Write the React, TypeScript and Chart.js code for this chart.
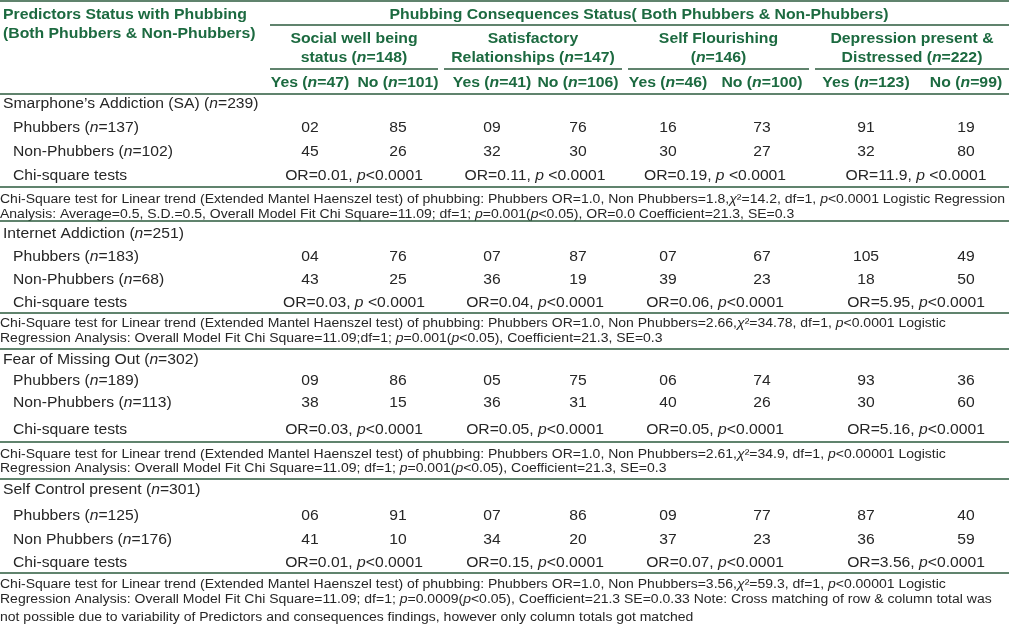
import React, { useEffect, useRef } from "react";
import { Chart, registerables } from "chart.js";

Chart.register(...registerables);

// ---------- DATA ----------
const predictorTitle = ["Predictors Status with Phubbing", "(Both Phubbers & Non-Phubbers)"];
const consequenceTitle = "Phubbing Consequences Status( Both Phubbers & Non-Phubbers)";
const consequenceGroups = [
  ["Social well being", "status (*n*=148)"],
  ["Satisfactory", "Relationships (*n*=147)"],
  ["Self Flourishing", "(*n*=146)"],
  ["Depression present &", "Distressed (*n*=222)"],
];
const yesNoLabels = [
  "Yes (*n*=47)", "No (*n*=101)",
  "Yes (*n*=41)", "No (*n*=106)",
  "Yes (*n*=46)", "No (*n*=100)",
  "Yes (*n*=123)", "No (*n*=99)",
];
const predictorLabels = [
  "Smarphone\u2019s Addiction (SA) (*n*=239)",
  "Internet Addiction (*n*=251)",
  "Fear of Missing Out (*n*=302)",
  "Self Control present (*n*=301)",
];
const phubberLabels = ["Phubbers (*n*=137)", "Phubbers (*n*=183)", "Phubbers (*n*=189)", "Phubbers (*n*=125)"];
const nonPhubberLabels = ["Non-Phubbers (*n*=102)", "Non-Phubbers (*n*=68)", "Non-Phubbers (*n*=113)", "Non Phubbers (*n*=176)"];
const chiLabel = "Chi-square tests";
const phubberCounts = [
  [2, 85, 9, 76, 16, 73, 91, 19],
  [4, 76, 7, 87, 7, 67, 105, 49],
  [9, 86, 5, 75, 6, 74, 93, 36],
  [6, 91, 7, 86, 9, 77, 87, 40],
];
const nonPhubberCounts = [
  [45, 26, 32, 30, 30, 27, 32, 80],
  [43, 25, 36, 19, 39, 23, 18, 50],
  [38, 15, 36, 31, 40, 26, 30, 60],
  [41, 10, 34, 20, 37, 23, 36, 59],
];
const chiSquareResults = [
  ["OR=0.01, *p*<0.0001", "OR=0.11, *p* <0.0001", "OR=0.19, *p* <0.0001", "OR=11.9, *p* <0.0001"],
  ["OR=0.03, *p* <0.0001", "OR=0.04, *p*<0.0001", "OR=0.06, *p*<0.0001", "OR=5.95, *p*<0.0001"],
  ["OR=0.03, *p*<0.0001", "OR=0.05, *p*<0.0001", "OR=0.05, *p*<0.0001", "OR=5.16, *p*<0.0001"],
  ["OR=0.01, *p*<0.0001", "OR=0.15, *p*<0.0001", "OR=0.07, *p*<0.0001", "OR=3.56, *p*<0.0001"],
];
const footnotes = [
  [
    "Chi-Square test for Linear trend (Extended Mantel Haenszel test) of phubbing: Phubbers OR=1.0, Non Phubbers=1.8,*\u03c7*\u00b2=14.2, df=1, *p*<0.0001 Logistic Regression",
    "Analysis: Average=0.5, S.D.=0.5, Overall Model Fit Chi Square=11.09; df=1; *p*=0.001(*p*<0.05), OR=0.0 Coefficient=21.3, SE=0.3",
  ],
  [
    "Chi-Square test for Linear trend (Extended Mantel Haenszel test) of phubbing: Phubbers OR=1.0, Non Phubbers=2.66,*\u03c7*\u00b2=34.78, df=1, *p*<0.0001 Logistic",
    "Regression Analysis: Overall Model Fit Chi Square=11.09;df=1; *p*=0.001(*p*<0.05), Coefficient=21.3, SE=0.3",
  ],
  [
    "Chi-Square test for Linear trend (Extended Mantel Haenszel test) of phubbing: Phubbers OR=1.0, Non Phubbers=2.61,*\u03c7*\u00b2=34.9, df=1, *p*<0.00001 Logistic",
    "Regression Analysis: Overall Model Fit Chi Square=11.09; df=1; *p*=0.001(*p*<0.05), Coefficient=21.3, SE=0.3",
  ],
  [
    "Chi-Square test for Linear trend (Extended Mantel Haenszel test) of phubbing: Phubbers OR=1.0, Non Phubbers=3.56,*\u03c7*\u00b2=59.3, df=1, *p*<0.00001 Logistic",
    "Regression Analysis: Overall Model Fit Chi Square=11.09; df=1; *p*=0.0009(*p*<0.05), Coefficient=21.3 SE=0.0.33 Note: Cross matching of row & column total was",
    "not possible due to variability of Predictors and consequences findings, however only column totals got matched",
  ],
];

// ---------- LAYOUT / STYLE ----------
const W = 1009;
const H = 626;
const FONT = '"Liberation Sans", Arial, Helvetica, sans-serif';
const HEAD_COLOR = "#1c6a40";
const RULE_COLOR = "#2b5a3c";
const BODY_COLOR = "#262626";
const SX = 1.12;
const BODY_SIZE = 14;
const HEAD_SIZE = 14.1;
const FOOT_SIZE = 12.5;
const COL_X = [310, 398, 492, 578, 668, 762, 866, 966];
const GROUP_SPANS = [[270, 438], [444, 622], [628, 809], [815, 1009]];
const LABEL_X = 3;
const SUB_X = 13;
const HEADER = { title: [15, 34], consTitle: 15, consX: 639, consRule: 25, consRuleX: 270, groups: [39, 58], groupRule: 69, yesNo: 83, rule: 94, top: 1 };
const BLOCKS = [
  { pred: 104, ph: 128, non: 152, chi: 176, rule: 187, foot: [200, 215], end: 221 },
  { pred: 234, ph: 257, non: 280, chi: 303, rule: 313, foot: [324, 339], end: 349 },
  { pred: 360, ph: 381, non: 403, chi: 430, rule: 442, foot: [455, 469], end: 479 },
  { pred: 490, ph: 516, non: 540, chi: 563, rule: 573, foot: [585, 600, 618], end: null as number | null },
];

function drawRich(
  ctx: CanvasRenderingContext2D,
  text: string,
  x: number,
  y: number,
  align: "left" | "center" | "right",
  size: number,
  bold: boolean,
  color: string
) {
  const parts = text.split("*");
  const fonts = parts.map((_, i) => `${i % 2 ? "italic " : ""}${bold ? "bold " : ""}${size}px ${FONT}`);
  const widths = parts.map((p, i) => {
    ctx.font = fonts[i];
    return ctx.measureText(p).width;
  });
  const total = widths.reduce((a, b) => a + b, 0) * SX;
  const start = align === "center" ? x - total / 2 : align === "right" ? x - total : x;
  ctx.save();
  ctx.fillStyle = color;
  ctx.textBaseline = "middle";
  ctx.textAlign = "left";
  ctx.translate(start, y);
  ctx.scale(SX, 1);
  let cx = 0;
  parts.forEach((p, i) => {
    ctx.font = fonts[i];
    ctx.fillText(p, cx, 0);
    cx += widths[i];
  });
  ctx.restore();
}

const tablePlugin = {
  id: "tablePlugin",
  afterDraw(chart: any) {
    const ctx: CanvasRenderingContext2D = chart.ctx;
    const xs = chart.scales.x;
    const ys = chart.scales.y;
    const px = (v: number) => xs.getPixelForValue(v);
    const py = (v: number) => ys.getPixelForValue(v);

    const rule = (x0: number, x1: number, y: number, w = 1.5) => {
      ctx.save();
      ctx.strokeStyle = RULE_COLOR;
      ctx.lineWidth = w;
      ctx.beginPath();
      ctx.moveTo(px(x0), py(y));
      ctx.lineTo(px(x1), py(y));
      ctx.stroke();
      ctx.restore();
    };

    ctx.save();
    ctx.fillStyle = "#ffffff";
    ctx.fillRect(0, 0, chart.width, chart.height);
    ctx.restore();

    // header
    rule(0, W, HEADER.top);
    predictorTitle.forEach((t, i) => drawRich(ctx, t, px(LABEL_X), py(HEADER.title[i]), "left", HEAD_SIZE, true, HEAD_COLOR));
    drawRich(ctx, consequenceTitle, px(HEADER.consX), py(HEADER.consTitle), "center", HEAD_SIZE, true, HEAD_COLOR);
    rule(HEADER.consRuleX, W, HEADER.consRule);
    consequenceGroups.forEach((g, gi) => {
      const [a, b] = GROUP_SPANS[gi];
      const cx = (a + b) / 2;
      g.forEach((t, li) => drawRich(ctx, t, px(cx), py(HEADER.groups[li]), "center", HEAD_SIZE, true, HEAD_COLOR));
      rule(a, b, HEADER.groupRule);
    });
    yesNoLabels.forEach((t, i) => drawRich(ctx, t, px(COL_X[i]), py(HEADER.yesNo), "center", HEAD_SIZE, true, HEAD_COLOR));
    rule(0, W, HEADER.rule);

    // body
    const fmt = (v: number) => String(v).padStart(2, "0");
    BLOCKS.forEach((b, bi) => {
      drawRich(ctx, predictorLabels[bi], px(LABEL_X), py(b.pred), "left", BODY_SIZE, false, BODY_COLOR);
      drawRich(ctx, phubberLabels[bi], px(SUB_X), py(b.ph), "left", BODY_SIZE, false, BODY_COLOR);
      drawRich(ctx, nonPhubberLabels[bi], px(SUB_X), py(b.non), "left", BODY_SIZE, false, BODY_COLOR);
      drawRich(ctx, chiLabel, px(SUB_X), py(b.chi), "left", BODY_SIZE, false, BODY_COLOR);
      phubberCounts[bi].forEach((v, ci) => drawRich(ctx, fmt(v), px(COL_X[ci]), py(b.ph), "center", BODY_SIZE, false, BODY_COLOR));
      nonPhubberCounts[bi].forEach((v, ci) => drawRich(ctx, fmt(v), px(COL_X[ci]), py(b.non), "center", BODY_SIZE, false, BODY_COLOR));
      chiSquareResults[bi].forEach((t, gi) => {
        const cx = (COL_X[gi * 2] + COL_X[gi * 2 + 1]) / 2;
        drawRich(ctx, t, px(cx), py(b.chi), "center", BODY_SIZE, false, BODY_COLOR);
      });
      rule(0, W, b.rule);
      footnotes[bi].forEach((t, li) => drawRich(ctx, t, px(0), py(b.foot[li]), "left", FOOT_SIZE, false, BODY_COLOR));
      if (b.end !== null) rule(0, W, b.end);
    });
  },
};

export default function App() {
  const canvasRef = useRef<HTMLCanvasElement | null>(null);

  useEffect(() => {
    const canvas = canvasRef.current;
    if (!canvas) return;
    const chart = new Chart(canvas, {
      type: "scatter",
      data: { datasets: [{ data: [], pointRadius: 0 }] },
      options: {
        responsive: false,
        animation: false,
        maintainAspectRatio: false,
        layout: { padding: 0 },
        events: [],
        plugins: { legend: { display: false }, tooltip: { enabled: false }, title: { display: false } },
        scales: {
          x: { type: "linear", min: 0, max: W, display: false },
          y: { type: "linear", min: 0, max: H, reverse: true, display: false },
        },
      },
      plugins: [tablePlugin],
    });
    return () => chart.destroy();
  }, []);

  return (
    <div style={{ position: "fixed", left: 0, top: 0, width: W, height: H, background: "#fff" }}>
      <canvas ref={canvasRef} width={W} height={H} style={{ width: W, height: H, display: "block" }} />
    </div>
  );
}
